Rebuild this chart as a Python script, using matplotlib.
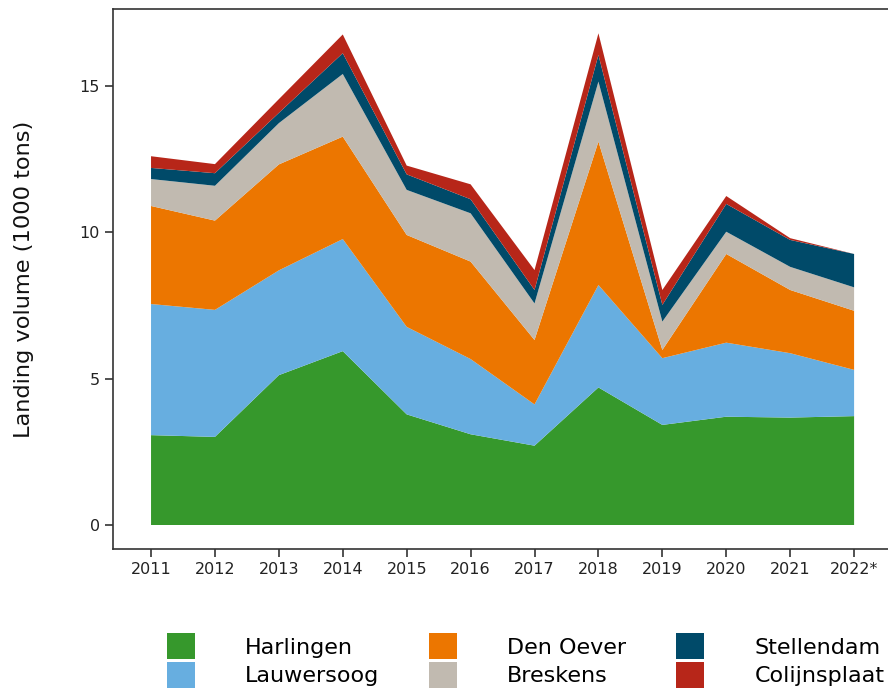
import matplotlib.pyplot as plt
from matplotlib.patches import Patch

years = ["2011", "2012", "2013", "2014", "2015", "2016",
         "2017", "2018", "2019", "2020", "2021", "2022*"]

# aanvoer per haven (1000 ton)
harlingen = [3.07, 3.01, 5.12, 5.94, 3.78, 3.10, 2.71, 4.70, 3.42, 3.70, 3.67, 3.72]
lauwersoog = [4.48, 4.34, 3.58, 3.83, 2.99, 2.57, 1.41, 3.50, 2.28, 2.53, 2.20, 1.58]
den_oever = [3.35, 3.05, 3.62, 3.50, 3.14, 3.33, 2.20, 4.90, 0.28, 3.03, 2.16, 2.02]
breskens = [0.92, 1.19, 1.41, 2.14, 1.54, 1.65, 1.25, 2.05, 0.97, 0.76, 0.79, 0.80]
stellendam = [0.38, 0.43, 0.35, 0.71, 0.53, 0.48, 0.46, 0.91, 0.57, 0.95, 0.92, 1.14]
colijnsplaat = [0.40, 0.31, 0.47, 0.64, 0.30, 0.51, 0.68, 0.74, 0.51, 0.27, 0.06, 0.00]

labels = ["Harlingen", "Lauwersoog", "Den Oever", "Breskens", "Stellendam", "Colijnsplaat"]
colors = ["#36982c", "#67aee0", "#ec7600", "#c1bab0", "#004a69", "#b72619"]

fig = plt.figure(figsize=(8.88, 6.94), dpi=100)
ax = fig.add_axes([113 / 888, 145 / 694, 782 / 888, 540 / 694])

x = list(range(len(years)))
ax.stackplot(x, harlingen, lauwersoog, den_oever, breskens, stellendam, colijnsplaat,
             colors=colors, linewidth=0)

ax.set_xlim(-0.595, 11.64)
ax.set_ylim(-0.82, 17.63)
ax.set_xticks(x)
ax.set_xticklabels(years)
ax.set_yticks([0, 5, 10, 15])
ax.tick_params(labelsize=11.5, length=6, width=1.1, color="#222222", labelcolor="#222222")

for side in ["left", "bottom", "top"]:
    ax.spines[side].set_color("#333333")
    ax.spines[side].set_linewidth(1.2)
ax.spines["right"].set_visible(False)

ax.set_ylabel("Landing volume (1000 tons)", fontsize=16.2, color="#111111")
ax.yaxis.set_label_coords(-0.101, 0.5)

handles = [Patch(facecolor=c, edgecolor="none") for c in colors]
fig.legend(handles, labels, ncol=3, frameon=False, fontsize=16,
           loc="upper left", bbox_to_anchor=(167 / 888, 1 - 633 / 694),
           borderpad=0, handlelength=1.26, handleheight=1.45,
           handletextpad=2.25, columnspacing=2.25, labelspacing=0.1,
           borderaxespad=0)

fig.savefig("out.png", dpi=100)
